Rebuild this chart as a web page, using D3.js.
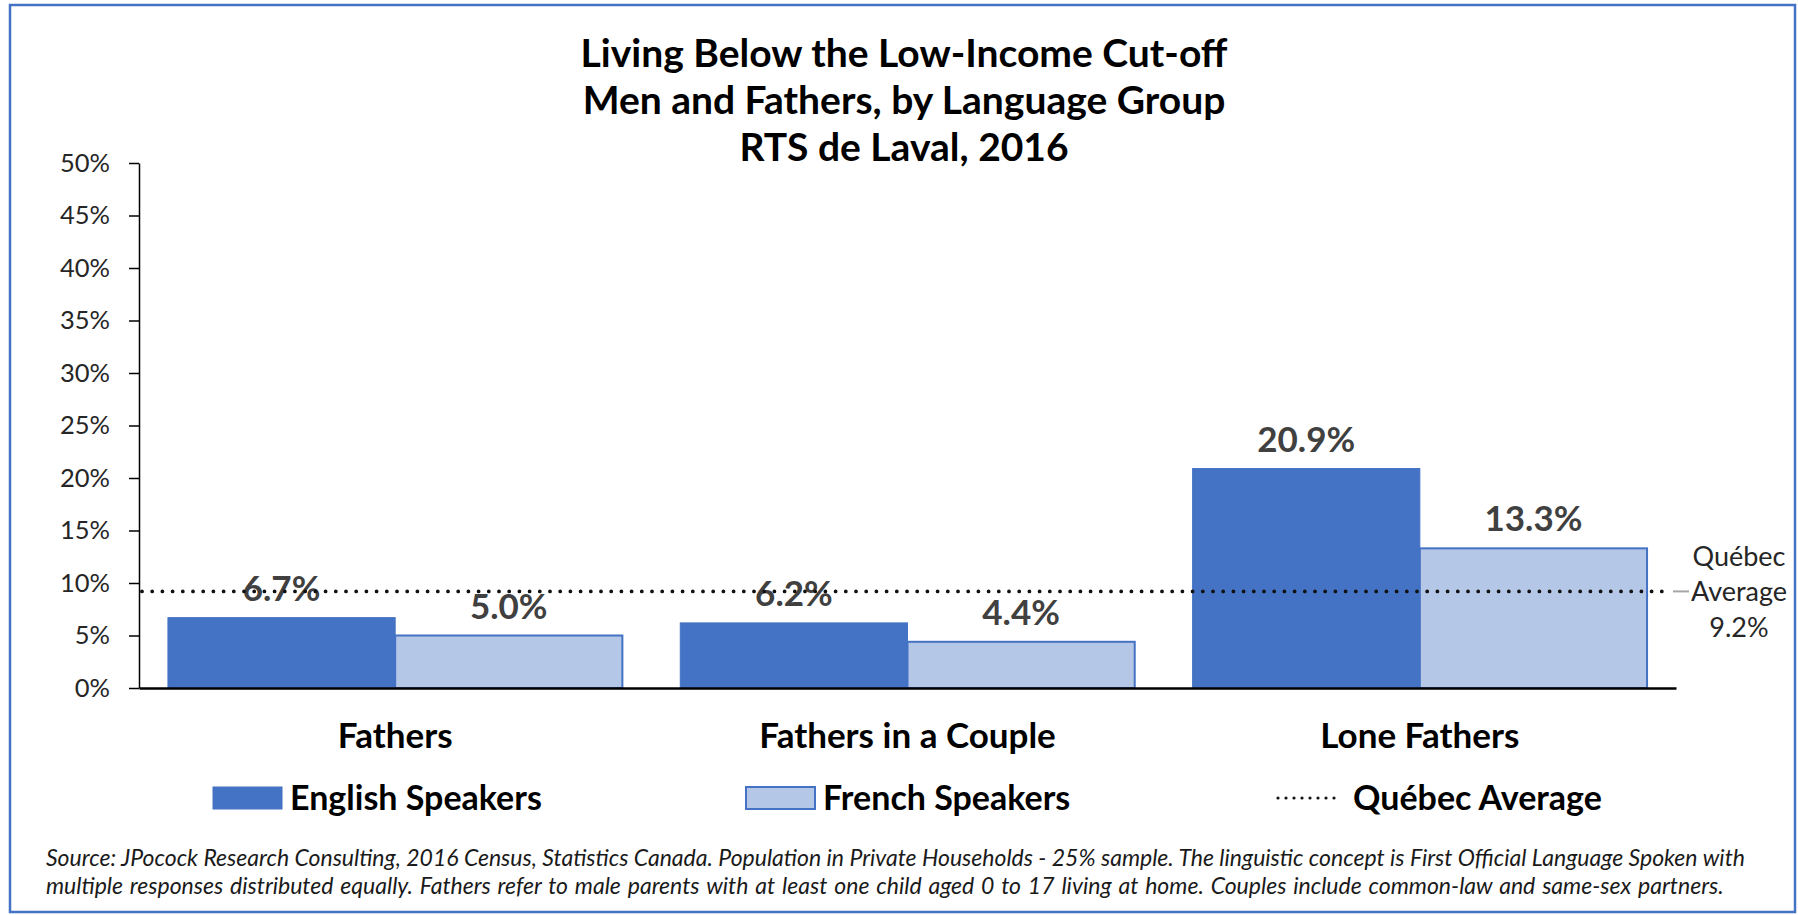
<!DOCTYPE html>
<html>
<head>
<meta charset="utf-8">
<script src="https://cdn.jsdelivr.net/npm/d3@7"></script>
<style>
  html, body { margin: 0; padding: 0; background: #fff; }
  svg { display: block; font-family: Lato, "Open Sans", sans-serif; }
</style>
</head>
<body>
<svg id="chart" width="1798" height="915"></svg>
<script>
// ---- data ----
const categories = ["Fathers", "Fathers in a Couple", "Lone Fathers"];
const seriesNames = ["English Speakers", "French Speakers"];
const englishValues = [0.067, 0.062, 0.209];
const frenchValues = [0.050, 0.044, 0.133];
const quebecAverage = 0.092;
const yTickValues = [0, 0.05, 0.10, 0.15, 0.20, 0.25, 0.30, 0.35, 0.40, 0.45, 0.50];
const titleLines = ["Living Below the Low-Income Cut-off", "Men and Fathers, by Language Group", "RTS de Laval, 2016"];
const avgLabelLines = ["Québec", "Average", "9.2%"];
const legendAvgLabel = "Québec Average";
const footnoteLines = [
  "Source: JPocock Research Consulting, 2016 Census, Statistics Canada. Population in Private Households - 25% sample. The linguistic concept is First Official Language Spoken with",
  "multiple responses distributed equally. Fathers refer to male parents with at least one child aged 0 to 17 living at home. Couples include common-law and same-sex partners."
];

// ---- layout / style ----
const W = 1798, H = 915;
const plot = { left: 139, right: 1676, top: 163, bottom: 688 };
const colors = { "English Speakers": "#4472C4", "French Speakers": "#B4C7E7" };
const strokeBlue = "#4472C4";

const svg = d3.select("#chart");
svg.append("rect").attr("width", W).attr("height", H).attr("fill", "#fff");
svg.append("rect").attr("x", 10).attr("y", 5).attr("width", 1785).attr("height", 907)
  .attr("fill", "none").attr("stroke", "#4472C4").attr("stroke-width", 2.5);

const rows = categories.map((c, i) => ({
  category: c,
  values: [
    { series: seriesNames[0], value: englishValues[i] },
    { series: seriesNames[1], value: frenchValues[i] }
  ]
}));

const x0 = d3.scaleBand().domain(categories).range([plot.left, plot.right])
  .paddingInner(0.113).paddingOuter(0.0565);
const x1 = d3.scaleBand().domain(seriesNames).range([0, x0.bandwidth()]).padding(0);
const y = d3.scaleLinear().domain([0, 0.5]).range([plot.bottom, plot.top]);

// title
const title = svg.append("g").attr("font-weight", 700).attr("font-size", 39).attr("fill", "#000")
  .attr("text-anchor", "middle");
titleLines.forEach((t, i) => {
  title.append("text").attr("x", 904).attr("y", 67 + i * 47).text(t);
});

// y axis
const yAxis = d3.axisLeft(y).tickValues(yTickValues).tickFormat(d3.format(".0%"))
  .tickSize(10).tickSizeOuter(0).tickPadding(19);
const gy = svg.append("g").attr("transform", `translate(${plot.left},0)`).call(yAxis);
gy.select(".domain").attr("stroke", "#000").attr("stroke-width", 1.5);
gy.selectAll(".tick line").attr("stroke", "#000").attr("stroke-width", 1.5);
gy.selectAll(".tick text").attr("font-size", 25.5).attr("fill", "#262626")
  .attr("font-family", "Lato, sans-serif");

// bars
const groups = svg.append("g").selectAll("g").data(rows).join("g")
  .attr("transform", d => `translate(${x0(d.category)},0)`);
groups.selectAll("rect").data(d => d.values).join("rect")
  .attr("x", d => x1(d.series))
  .attr("y", d => y(d.value))
  .attr("width", x1.bandwidth())
  .attr("height", d => y(0) - y(d.value))
  .attr("fill", d => colors[d.series])
  .attr("stroke", strokeBlue)
  .attr("stroke-width", d => d.series === seriesNames[1] ? 2 : 1);

// x axis
const xAxis = d3.axisBottom(x0).tickSize(0).tickSizeOuter(0).tickPadding(35);
const gx = svg.append("g").attr("transform", `translate(0,${plot.bottom})`).call(xAxis);
gx.select(".domain").attr("stroke", "#000").attr("stroke-width", 2.5);
gx.selectAll(".tick text").attr("font-size", 35).attr("font-weight", 700).attr("fill", "#000")
  .attr("font-family", "Lato, sans-serif");

// quebec average dotted line
const yAvg = y(quebecAverage);
svg.append("line").attr("x1", plot.left + 3).attr("x2", plot.right - 6)
  .attr("y1", yAvg).attr("y2", yAvg)
  .attr("stroke", "#111").attr("stroke-width", 3.8)
  .attr("stroke-linecap", "round").attr("stroke-dasharray", "0,10.2");
svg.append("line").attr("x1", plot.right - 3).attr("x2", plot.right + 13)
  .attr("y1", yAvg).attr("y2", yAvg).attr("stroke", "#A6A6A6").attr("stroke-width", 2);

// value labels
const labelG = groups.selectAll("g.lbl").data(d => d.values).join("g").attr("class", "lbl");
labelG.each(function(d) {
  const g = d3.select(this);
  const t = g.append("text")
    .attr("x", x1(d.series) + x1.bandwidth() / 2)
    .attr("y", y(d.value) - 17)
    .attr("text-anchor", "middle")
    .attr("font-size", 35).attr("font-weight", 700).attr("fill", "#404040")
    .text(d3.format(".1%")(d.value));
  const bb = t.node().getBBox();
  g.insert("rect", "text").attr("x", bb.x).attr("y", bb.y + 5).attr("width", bb.width)
    .attr("height", bb.height - 12).attr("fill", "#fff").attr("fill-opacity", 0.8);
});

// average annotation on right
const ann = svg.append("g").attr("font-size", 27).attr("fill", "#262626").attr("text-anchor", "middle");
avgLabelLines.forEach((t, i) => {
  ann.append("text").attr("x", 1739).attr("y", yAvg + 10 + (i - 1) * 35.5).text(t);
});

// legend
const legend = svg.append("g");
const legendItems = [
  { key: seriesNames[0], x: 213, type: "rect" },
  { key: seriesNames[1], x: 746, type: "rect" },
  { key: legendAvgLabel, x: 1276, type: "line" }
];
const legendY = 798;
legendItems.forEach(it => {
  if (it.type === "rect") {
    legend.append("rect").attr("x", it.x).attr("y", legendY - 11).attr("width", 69).attr("height", 22)
      .attr("fill", colors[it.key]).attr("stroke", strokeBlue)
      .attr("stroke-width", it.key === seriesNames[1] ? 2 : 1);
  } else {
    legend.append("line").attr("x1", it.x + 2).attr("x2", it.x + 66).attr("y1", legendY).attr("y2", legendY)
      .attr("stroke", "#111").attr("stroke-width", 3.2).attr("stroke-linecap", "round")
      .attr("stroke-dasharray", "0,8");
  }
  legend.append("text").attr("x", it.x + 77).attr("y", legendY + 12)
    .attr("font-size", 34).attr("font-weight", 700).attr("fill", "#000").text(it.key);
});

// footnote
const foot = svg.append("g").attr("font-size", 23).attr("font-style", "italic").attr("fill", "#1a1a1a");
footnoteLines.forEach((t, i) => {
  foot.append("text").attr("x", 46).attr("y", 866 + i * 27.5)
    .attr("word-spacing", i === 1 ? 1.5 : 0).text(t);
});
</script>
</body>
</html>
